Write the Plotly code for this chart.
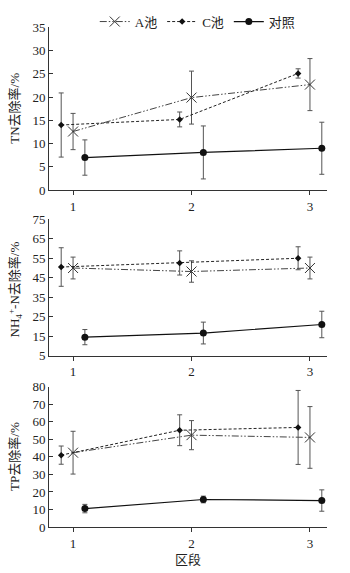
import plotly.graph_objects as go

segments = [1, 2, 3]
series_names = ["A池", "C池", "对照"]

# TN removal (%)
tn_A = [12.6, 19.9, 22.7]
tn_A_err = [3.9, 5.7, 5.6]
tn_C = [14.0, 15.2, 25.1]
tn_C_err = [6.9, 1.6, 1.0]
tn_K = [7.0, 8.1, 9.0]
tn_K_err = [3.8, 5.7, 5.6]

# NH4+-N removal (%)
nh_A = [50.0, 48.2, 50.0]
nh_A_err = [5.6, 5.5, 5.6]
nh_C = [50.5, 52.6, 55.0]
nh_C_err = [9.9, 6.2, 5.9]
nh_K = [14.5, 16.6, 21.0]
nh_K_err = [3.9, 5.6, 6.8]

# TP removal (%)
tp_A = [42.4, 52.4, 51.1]
tp_A_err = [12.2, 8.3, 17.6]
tp_C = [41.0, 55.2, 56.8]
tp_C_err = [5.2, 8.8, 21.1]
tp_K = [10.5, 15.7, 15.1]
tp_K_err = [2.4, 1.9, 6.1]

panels = [
    (tn_A, tn_A_err, tn_C, tn_C_err, tn_K, tn_K_err),
    (nh_A, nh_A_err, nh_C, nh_C_err, nh_K, nh_K_err),
    (tp_A, tp_A_err, tp_C, tp_C_err, tp_K, tp_K_err),
]

offsets = [0.0, -0.1, 0.1]
styles = [
    dict(line=dict(color="#444", width=1, dash="7px,2px,1.5px,2px,1.5px,2px"),
         marker=dict(symbol="x-thin-open", size=10, color="#333", line=dict(width=1, color="#333"))),
    dict(line=dict(color="#222", width=1, dash="3px,2px"),
         marker=dict(symbol="diamond", size=5, color="#111")),
    dict(line=dict(color="#111", width=1.2),
         marker=dict(symbol="circle", size=7, color="#111")),
]

SERIF = "Liberation Serif, Noto Sans CJK SC, serif"
fig = go.Figure()

for pi, vals in enumerate(panels):
    xa = "x" if pi == 0 else f"x{pi+1}"
    ya = "y" if pi == 0 else f"y{pi+1}"
    for si in range(3):
        y = vals[2 * si]
        e = vals[2 * si + 1]
        fig.add_trace(go.Scatter(
            x=[s + offsets[si] for s in segments], y=y,
            mode="lines+markers", name=series_names[si],
            showlegend=(pi == 0), legendgroup=series_names[si],
            error_y=dict(type="data", array=e, visible=True, color="#555", thickness=1, width=2.5),
            xaxis=xa, yaxis=ya, **styles[si]))

doms = [(0.6719, 0.9634), (0.3752, 0.6195), (0.0681, 0.3194)]
yranges = [(0, 35, 0, 5), (5, 75, 5, 10), (0, 80, 0, 10)]
ytitles = ["TN去除率/%", "NH<sub>4</sub><sup>+</sup>-N去除率/%", "TP去除率/%"]

layout = dict(
    width=350, height=573, margin=dict(l=0, r=0, t=0, b=0),
    paper_bgcolor="white", plot_bgcolor="white",
    font=dict(family=SERIF, size=13, color="#222"),
    showlegend=True,
    legend=dict(orientation="h", x=0.565, xanchor="center", y=1 - 15 / 573, yanchor="middle",
                font=dict(size=13, family=SERIF), itemwidth=30, tracegroupgap=0,
                bgcolor="rgba(0,0,0,0)"),
)
for pi in range(3):
    xk = "xaxis" if pi == 0 else f"xaxis{pi+1}"
    yk = "yaxis" if pi == 0 else f"yaxis{pi+1}"
    yname = "y" if pi == 0 else f"y{pi+1}"
    xname = "x" if pi == 0 else f"x{pi+1}"
    layout[xk] = dict(domain=[0.14, 0.934], range=[0.797, 3.143], anchor=yname,
                      tickvals=segments, ticks="outside", ticklen=4, tickcolor="#333",
                      showline=True, linecolor="#333", linewidth=1, showgrid=False, zeroline=False,
                      tickfont=dict(size=13, family=SERIF))
    lo, hi, t0, dt = yranges[pi]
    layout[yk] = dict(domain=list(doms[pi]), range=[lo, hi], tick0=t0, dtick=dt, anchor=xname,
                      ticks="inside", ticklen=4, tickcolor="#333",
                      showline=True, linecolor="#333", linewidth=1, showgrid=False, zeroline=False,
                      tickfont=dict(size=13, family=SERIF))
layout["xaxis3"]["title"] = dict(text="区段", font=dict(size=13, family=SERIF), standoff=5)

fig.update_layout(**layout)

centers = [104.5, 290, 462]
for pi in range(3):
    fig.add_annotation(text=ytitles[pi], xref="paper", yref="paper", x=15 / 350, y=1 - centers[pi] / 573,
                       textangle=-90, showarrow=False, font=dict(size=13, family=SERIF),
                       xanchor="center", yanchor="middle")

fig.write_html("out.html")
